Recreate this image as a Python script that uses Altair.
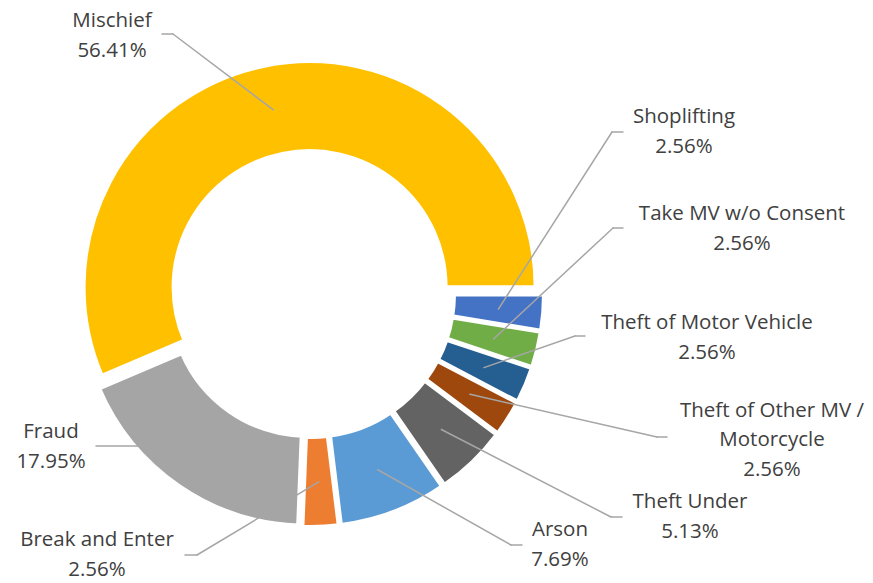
import altair as alt
import pandas as pd

# ---------------- data ----------------
categories = ["Shoplifting", "Take MV w/o Consent", "Theft of Motor Vehicle",
              "Theft of Other MV / Motorcycle", "Theft Under", "Arson",
              "Break and Enter", "Fraud", "Mischief"]
shares = [2.56, 2.56, 2.56, 2.56, 5.13, 7.69, 2.56, 17.95, 56.41]
label_names = ["Shoplifting", "Take MV w/o Consent", "Theft of Motor Vehicle",
               "Theft of Other MV /\nMotorcycle", "Theft Under", "Arson",
               "Break and Enter", "Fraud", "Mischief"]

# ---------------- styles ----------------
colors = ["#4472C4", "#70AD47", "#255E91", "#9E480E", "#636363",
          "#5B9BD5", "#ED7D31", "#A5A5A5", "#FFC000"]

# ---------------- layout (page pixels) ----------------
MARGIN = 8
LINE_H = 29.5
label_x = [684, 742, 707, 772, 690, 560, 97, 51, 112]
label_y = [132, 229, 338, 440, 517, 545, 555, 447, 36]     # label block centres
line_end_x = [623, 623, 585, 667, 622, 522, 185, 96, 162]
elbow_x = [612, 613, 575, 657, 611, 511, 197, 138, 173]
line_y = [132, 228, 336, 437, 517, 545, 555, 446, 34]

CX, CY = 311 - MARGIN, 294 - MARGIN   # donut centre
EXPLODE = 7
R_OUT, R_IN = 226, 136
R_ANCHOR = 181
W, H = 857, 575

labels = [f"{n}\n{v:.2f}%" for n, v in zip(label_names, shares)]
n_lines = [lab.count("\n") + 1 for lab in labels]

df = pd.DataFrame({
    "order": list(range(len(categories))),
    "category": categories,
    "share": shares,
    "label": labels,
    "lx": [v - MARGIN for v in label_x],
    "ly": [v - MARGIN - (n - 1) * LINE_H / 2 for v, n in zip(label_y, n_lines)],
    "lex": [v - MARGIN for v in line_end_x],
    "ex": [v - MARGIN for v in elbow_x],
    "ey": [v - MARGIN for v in line_y],
})

base = (
    alt.Chart(df)
    .transform_window(cum="sum(share)", sort=[alt.SortField("order")], frame=[None, 0])
    .transform_joinaggregate(total="sum(share)")
    .transform_calculate(
        a0="(datum.cum - datum.share) / datum.total * 2 * PI + PI / 2",
        a1="datum.cum / datum.total * 2 * PI + PI / 2",
    )
    .transform_calculate(mid="(datum.a0 + datum.a1) / 2")
    .transform_calculate(
        cx=f"{CX} + {EXPLODE} * sin(datum.mid)",
        cy=f"{CY} - {EXPLODE} * cos(datum.mid)",
    )
    .transform_calculate(
        ax=f"datum.cx + {R_ANCHOR} * sin(datum.mid)",
        ay=f"datum.cy - {R_ANCHOR} * cos(datum.mid)",
    )
)

arcs = base.mark_arc(outerRadius=R_OUT, innerRadius=R_IN, stroke="white",
                     strokeWidth=4).encode(
    theta=alt.Theta("a0:Q", scale=None, stack=None),
    theta2=alt.Theta2("a1:Q"),
    x=alt.X("cx:Q", scale=None, axis=None),
    y=alt.Y("cy:Q", scale=None, axis=None),
    color=alt.Color("category:N", scale=alt.Scale(domain=categories, range=colors),
                    legend=None),
)

lead1 = base.mark_rule(color="#A6A6A6", strokeWidth=1.5, strokeCap="round").encode(
    x=alt.X("ax:Q", scale=None, axis=None),
    y=alt.Y("ay:Q", scale=None, axis=None),
    x2=alt.X2("ex:Q"),
    y2=alt.Y2("ey:Q"),
)
lead2 = base.mark_rule(color="#A6A6A6", strokeWidth=1.5, strokeCap="round").encode(
    x=alt.X("ex:Q", scale=None, axis=None),
    y=alt.Y("ey:Q", scale=None, axis=None),
    x2=alt.X2("lex:Q"),
    y2=alt.Y2("ey:Q"),
)

texts = base.mark_text(align="center", baseline="middle", lineBreak="\n",
                       lineHeight=LINE_H, fontSize=20.5, font="Open Sans",
                       color="#404040").encode(
    x=alt.X("lx:Q", scale=None, axis=None),
    y=alt.Y("ly:Q", scale=None, axis=None),
    text="label:N",
)

chart = (
    alt.layer(arcs, lead1, lead2, texts)
    .properties(width=W, height=H, padding=0,
                autosize=alt.AutoSizeParams(type="none"))
    .configure_view(stroke=None)
)

chart.save("out.html", embed_options={"renderer": "svg", "actions": False})
